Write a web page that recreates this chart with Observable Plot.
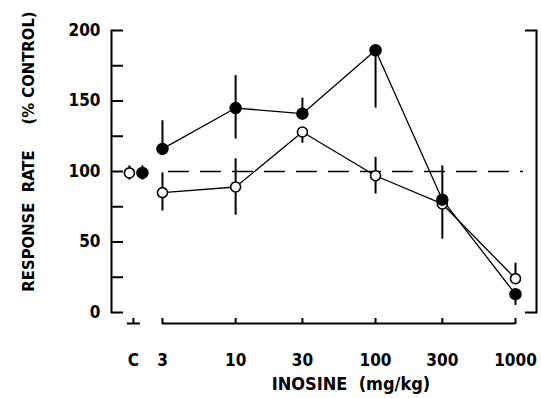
<!DOCTYPE html>
<html><head><meta charset="utf-8">
<script src="https://cdn.jsdelivr.net/npm/d3@7"></script>
<script src="https://cdn.jsdelivr.net/npm/@observablehq/plot@0.6"></script>
<style>
body{margin:0;background:#fff}
svg{white-space:pre}
</style>
</head><body><div id="chart"></div>
<script>
// ---- data ----
const doseLabels = ["C", "3", "10", "30", "100", "300", "1000"];
const doses = [3, 10, 30, 100, 300, 1000];
const controlPos = 1.86; // where the control category sits on the dose axis

const filledMean = [116, 145, 141, 186, 80, 13];
const filledLow  = [116, 123, 141, 145, 52, 5];
const filledHigh = [136, 168, 152, 186, 104, 13];

const openMean = [85, 89, 128, 97, 77, 24];
const openLow  = [72, 69, 120, 84, 77, 24];
const openHigh = [99, 109, 128, 110, 77, 35];

const controlSeries = ["open", "filled"];
const controlMean = [99, 99];
const controlLow  = [94, 94];
const controlHigh = [104, 104];

const yLabelTicks = [0, 50, 100, 150, 200];
const yMinorTicks = [0, 25, 50, 75, 100, 125, 150, 175, 200];
const referenceLevel = 100;

// ---- tables ----
const filledRows = doses.map((d, i) => ({dose: d, mean: filledMean[i], low: filledLow[i], high: filledHigh[i]}));
const openRows = doses.map((d, i) => ({dose: d, mean: openMean[i], low: openLow[i], high: openHigh[i]}));
const ctrlOpen = [{dose: controlPos, mean: controlMean[0], low: controlLow[0], high: controlHigh[0]}];
const ctrlFilled = [{dose: controlPos, mean: controlMean[1], low: controlLow[1], high: controlHigh[1]}];
const xTickVals = [controlPos, ...doses];
const labelMap = new Map(xTickVals.map((v, i) => [v, doseLabels[i]]));

const FONT = "'DejaVu Sans Condensed','Liberation Sans Narrow','Arial Narrow',sans-serif";

const chart = Plot.plot({
  width: 541,
  height: 398,
  marginLeft: 111,
  marginRight: 5,
  marginTop: 30,
  marginBottom: 86,
  style: {fontFamily: FONT, fontWeight: "bold", background: "#fff", color: "#000"},
  x: {type: "log", domain: [1.297, 1413]},
  y: {domain: [0, 200]},
  marks: [
    // left and right vertical axes
    Plot.frame({anchor: "left", strokeWidth: 2}),
    Plot.frame({anchor: "right", strokeWidth: 2}),
    Plot.axisY({anchor: "right", frameAnchor: "left", ticks: yMinorTicks, tickSize: 11, strokeWidth: 2, tickFormat: () => "", label: null}),
    Plot.axisY({anchor: "left", frameAnchor: "right", ticks: [0, 200], tickSize: 11, strokeWidth: 2, tickFormat: () => "", label: null}),
    Plot.axisY({anchor: "left", ticks: yLabelTicks, tickSize: 0, tickPadding: 11, fontSize: 17, tickFormat: d => String(d), label: null}),
    // x axis
    Plot.ruleY([0], {x1: 3, x2: 1000, dy: 11, strokeWidth: 2}),
    Plot.ruleY([0], {x1: controlPos, x2: controlPos, dy: 11, insetLeft: -6, insetRight: -7, strokeWidth: 2}),
    Plot.axisX({anchor: "top", frameAnchor: "bottom", ticks: xTickVals, tickSize: 6, dy: 11, strokeWidth: 2, tickFormat: () => "", label: null}),
    Plot.axisX({anchor: "bottom", ticks: xTickVals, tickSize: 0, tickPadding: 41, fontSize: 17, tickFormat: d => labelMap.get(d), label: null}),
    // axis titles
    Plot.text(["RESPONSE  RATE     (% CONTROL)"], {frameAnchor: "left", textAnchor: "middle", lineAnchor: "middle", dx: -83, dy: -20, rotate: -90, fontSize: 16.5, fontWeight: "bold"}),
    Plot.text(["INOSINE  (mg/kg)"], {frameAnchor: "bottom", textAnchor: "middle", lineAnchor: "middle", dx: 27, dy: 72, fontSize: 18, fontWeight: "bold"}),
    // reference level
    Plot.ruleY([referenceLevel], {x1: 3, x2: 1000, insetLeft: 6, insetRight: -8, strokeWidth: 1.6, strokeDasharray: "21,11"}),
    // series lines
    Plot.line(filledRows, {x: "dose", y: "mean", strokeWidth: 1.3}),
    Plot.line(openRows, {x: "dose", y: "mean", strokeWidth: 1.3}),
    // error bars
    Plot.ruleX(openRows, {x: "dose", y1: "low", y2: "high", strokeWidth: 2}),
    Plot.ruleX(filledRows, {x: "dose", y1: "low", y2: "high", strokeWidth: 2}),
    Plot.ruleX(ctrlOpen, {x: "dose", y1: "low", y2: "high", dx: -4, strokeWidth: 2}),
    Plot.ruleX(ctrlFilled, {x: "dose", y1: "low", y2: "high", dx: 9, strokeWidth: 2}),
    // points
    Plot.dot(openRows, {x: "dose", y: "mean", r: 5, fill: "#fff", stroke: "#000", strokeWidth: 1.6}),
    Plot.dot(filledRows, {x: "dose", y: "mean", r: 5.5, fill: "#000", stroke: "#000"}),
    Plot.dot(ctrlOpen, {x: "dose", y: "mean", dx: -4, r: 5, fill: "#fff", stroke: "#000", strokeWidth: 1.6}),
    Plot.dot(ctrlFilled, {x: "dose", y: "mean", dx: 9, r: 5.5, fill: "#000", stroke: "#000"})
  ]
});
document.getElementById("chart").appendChild(chart);
</script>
</body></html>
